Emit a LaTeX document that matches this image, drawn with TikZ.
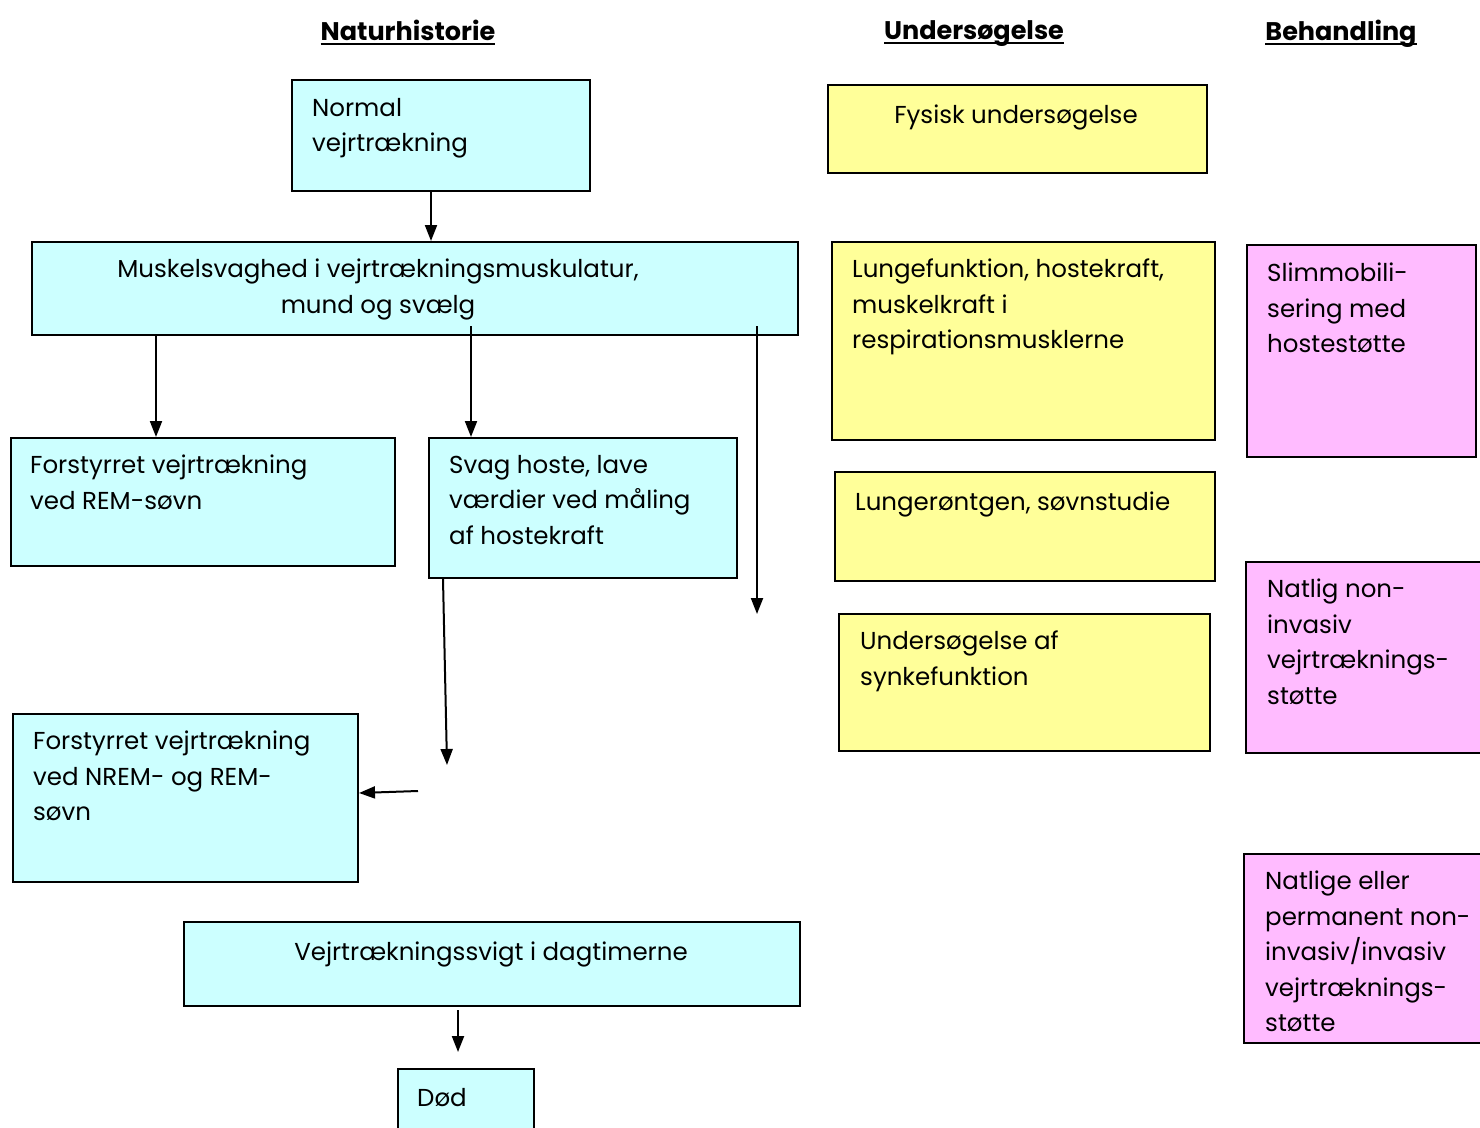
\documentclass[tikz,border=0pt]{standalone}
\usepackage{fontspec}
\setmainfont{Poppins}
\usetikzlibrary{arrows.meta}
\newcommand{\thickul}[1]{\setbox0\hbox{#1}\rlap{\rule[-4.5pt]{\wd0}{2pt}}\box0}
\definecolor{cy}{RGB}{204,255,255}
\definecolor{ye}{RGB}{255,255,153}
\definecolor{pk}{RGB}{255,187,255}
\tikzset{
  box/.style={draw=black, line width=2pt, inner sep=0pt, anchor=north west},
  txt/.style={inner sep=0pt, anchor=north west, align=left, font=\fontsize{24.5}{35.5}\selectfont},
  ctxt/.style={inner sep=0pt, anchor=north, align=center, font=\fontsize{24.5}{36}\selectfont},
  head/.style={inner sep=0pt, anchor=north, font=\fontsize{25.5}{30}\selectfont\bfseries},
  arr/.style={line width=2pt, -{Triangle[width=12pt,length=16pt]}},
}
\newcommand{\bx}[6]{\node[box, fill=#1, minimum width=#4-#2, minimum height=#5-#3] (#6) at (#2,#3) {};}
\begin{document}
\begin{tikzpicture}[x=1pt,y=-1pt]
\useasboundingbox (0,0) rectangle (1480,1127);
% headers
\node[head] (h1) at (408,20) {\thickul{Naturhistorie}};
\node[head] (h2) at (974,20) {\thickul{Undersøgelse}};
\node[head] (h3) at (1341,20) {\thickul{Behandling}};
% boxes
\bx{cy}{291}{79}{589}{190}{b1}
\bx{cy}{31}{241}{797}{334}{b2}
\bx{cy}{10}{437}{394}{565}{b3}
\bx{cy}{428}{437}{736}{577}{b4}
\bx{cy}{12}{713}{357}{881}{b5}
\bx{cy}{183}{921}{799}{1005}{b6}
\bx{cy}{397}{1068}{533}{1140}{b7}
\bx{ye}{827}{84}{1206}{172}{u1}
\bx{ye}{831}{241}{1214}{439}{u2}
\bx{ye}{834}{471}{1214}{580}{u3}
\bx{ye}{838}{613}{1209}{750}{u4}
\bx{pk}{1246}{244}{1475}{456}{p1}
\bx{pk}{1245}{561}{1490}{752}{p2}
\bx{pk}{1243}{853}{1490}{1042}{p3}
% texts
\node[txt] (t1) at (312,98) {Normal\\vejrtrækning};
\node[ctxt] (t2) at (378,259) {Muskelsvaghed i vejrtrækningsmuskulatur,\\mund og svælg};
\node[txt] (t3) at (30,455) {Forstyrret vejrtrækning\\ved REM-søvn};
\node[txt] (t4) at (449,455) {Svag hoste, lave\\værdier ved måling\\af hostekraft};
\node[txt] (t5) at (33,731) {Forstyrret vejrtrækning\\ved NREM- og REM-\\søvn};
\node[ctxt] (t6) at (491,942) {Vejrtrækningssvigt i dagtimerne};
\node[txt] (t7) at (417,1088) {Død};
\node[ctxt] (s1) at (1016,105) {Fysisk undersøgelse};
\node[txt] (s2) at (852,259) {Lungefunktion, hostekraft,\\muskelkraft i\\respirationsmusklerne};
\node[txt] (s3) at (855,492) {Lungerøntgen, søvnstudie};
\node[txt] (s4) at (860,631) {Undersøgelse af\\synkefunktion};
\node[txt] (r1) at (1267,263) {Slimmobili-\\sering med\\hostestøtte};
\node[txt] (r2) at (1267,579) {Natlig non-\\invasiv\\vejrtræknings-\\støtte};
\node[txt] (r3) at (1265,871) {Natlige eller\\permanent non-\\invasiv/invasiv\\vejrtræknings-\\støtte};
% free ends
\coordinate (e1) at (757,614);
\coordinate (e2) at (447,765);
\coordinate (e3) at (418,791);
\coordinate (s2a) at (471,326);
\coordinate (s3a) at (757,326);
% arrows
\draw[arr] (b1.south -| 431,0) -- (b2.north -| 431,0);
\draw[arr] (b2.south -| 156,0) -- (b3.north -| 156,0);
\draw[arr] (s2a) -- (b4.north -| 471,0);
\draw[arr] (s3a) -- (e1);
\draw[arr] (b4.south -| 443,0) -- (e2);
\draw[arr] (e3) -- (b5.east |- 0,793);
\draw[arr] (b6.south -| 458,0) ++(0,3) -- (458,1052);
\end{tikzpicture}
\end{document}
